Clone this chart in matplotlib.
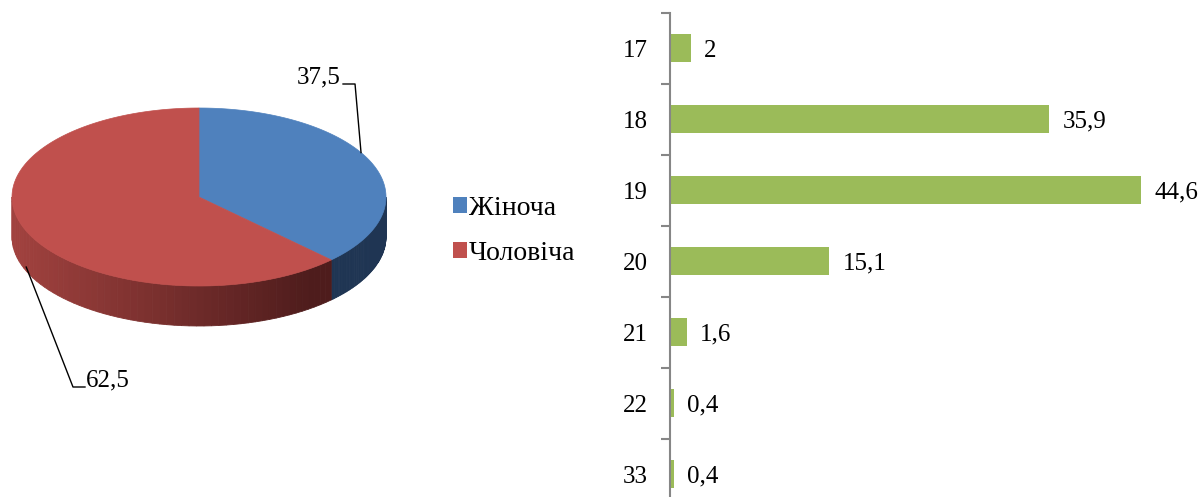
import numpy as np
import matplotlib
matplotlib.use("Agg")
import matplotlib.pyplot as plt
from matplotlib.patches import Polygon, Patch

plt.rcParams["font.family"] = ["Liberation Serif", "DejaVu Serif"]

# дані: стать
gender_labels = ["Жіноча", "Чоловіча"]
gender_values = [37.5, 62.5]
gender_text = ["37,5", "62,5"]

# дані: вік
age_labels = ["17", "18", "19", "20", "21", "22", "33"]
age_values = [2, 35.9, 44.6, 15.1, 1.6, 0.4, 0.4]
age_text = ["2", "35,9", "44,6", "15,1", "1,6", "0,4", "0,4"]

W, H = 1203, 497
fig = plt.figure(figsize=(W / 100, H / 100), dpi=100)

# ---------- 3D-кругова діаграма (псевдо-3D еліпс) ----------
ax_pie = fig.add_axes([0, 0, 1, 1])
ax_pie.set_xlim(0, W)
ax_pie.set_ylim(H, 0)
ax_pie.axis("off")

cx, cy, rx, ry, depth = 199, 197, 187, 89, 40
top_colors = ["#4F81BD", "#C0504D"]
side_light = [np.array([31, 53, 83]), np.array([162, 66, 63])]
side_dark = [np.array([31, 53, 83]), np.array([78, 28, 28])]


def edge(t, dy=0.0):
    return cx + rx * np.cos(t), cy - ry * np.sin(t) + dy


fracs = np.array(gender_values) / sum(gender_values)
start = np.pi / 2
bounds = []
for f in fracs:
    end = start - f * 2 * np.pi
    bounds.append((start, end))
    start = end

# бічна стінка (лише передня половина)
for i, (a, b) in enumerate(bounds):
    lo, hi = min(a, b), max(a, b)
    segs = []
    for shift in (0, 2 * np.pi, -2 * np.pi):
        s0, s1 = max(lo + shift, -np.pi), min(hi + shift, 0)
        if s1 > s0:
            segs.append((s0, s1))
    for s0, s1 in segs:
        ts = np.linspace(s0, s1, 60)
        for t0, t1 in zip(ts[:-1], ts[1:]):
            x0, y0 = edge(t0)
            x1, y1 = edge(t1)
            pos = ((x0 + x1) / 2 - (cx - rx)) / (2 * rx)
            k = min(1.0, pos / 0.8)
            col = side_light[i] * (1 - k) + side_dark[i] * k
            quad = [(x0, y0), (x1, y1), (x1, y1 + depth), (x0, y0 + depth)]
            ax_pie.add_patch(Polygon(quad, closed=True, facecolor=col / 255,
                                     edgecolor=col / 255, linewidth=0.6))

# верхня грань
for i, (a, b) in enumerate(bounds):
    ts = np.linspace(a, b, 200)
    xs, ys = edge(ts)
    pts = [(cx, cy)] + list(zip(xs, ys))
    ax_pie.add_patch(Polygon(pts, closed=True, facecolor=top_colors[i],
                             edgecolor=top_colors[i], linewidth=0.5))

# підписи з виносками
mid0 = (bounds[0][0] + bounds[0][1]) / 2
px, py = edge(mid0 + 0.13)
ax_pie.plot([px, px - 6, px - 18], [py, 84, 84], color="black", lw=1.0)
ax_pie.text(px - 20, 77, gender_text[0], fontsize=18, ha="right", va="center")

mid1 = (bounds[1][0] + bounds[1][1]) / 2
qx, qy = edge(mid1, dy=depth * 0.9)
ax_pie.plot([qx, 73, 85], [qy, 387, 387], color="black", lw=1.0)
ax_pie.text(86, 380, gender_text[1], fontsize=18, ha="left", va="center")

handles = [Patch(facecolor=c, edgecolor="none") for c in top_colors]
fig.legend(handles, gender_labels, loc="upper left",
           bbox_to_anchor=(453 / W, 1 - 195.5 / H), frameon=False,
           borderpad=0, borderaxespad=0, fontsize=20,
           handlelength=0.5, handleheight=0.5, handletextpad=0.06,
           labelspacing=0.74)

# ---------- горизонтальна гістограма ----------
ax_bar = fig.add_axes([670 / W, -12.5 / H, 528 / W, 1.0])
y = np.arange(len(age_labels))
ax_bar.barh(y, age_values, height=0.4, color="#9BBB59")
ax_bar.set_xlim(0, 50)
ax_bar.set_ylim(len(age_labels) - 0.5, -0.5)

for s in ("top", "right", "bottom"):
    ax_bar.spines[s].set_visible(False)
ax_bar.spines["left"].set_color("#868686")
ax_bar.spines["left"].set_linewidth(1.5)
ax_bar.set_xticks([])
ax_bar.set_yticks(y)
ax_bar.set_yticklabels(age_labels, fontsize=18)
ax_bar.set_yticks(np.arange(-0.5, len(age_labels)), minor=True)
ax_bar.tick_params(axis="y", which="major", length=0, pad=16)
ax_bar.tick_params(axis="y", which="minor", length=6.5, width=1.5,
                   color="#868686", direction="out")

for yi, v, t in zip(y, age_values, age_text):
    ax_bar.annotate(t, (v, yi), xytext=(9.5, 0), textcoords="offset points",
                    fontsize=18, ha="left", va="center_baseline",
                    annotation_clip=False)

fig.savefig("out.png", dpi=100)
